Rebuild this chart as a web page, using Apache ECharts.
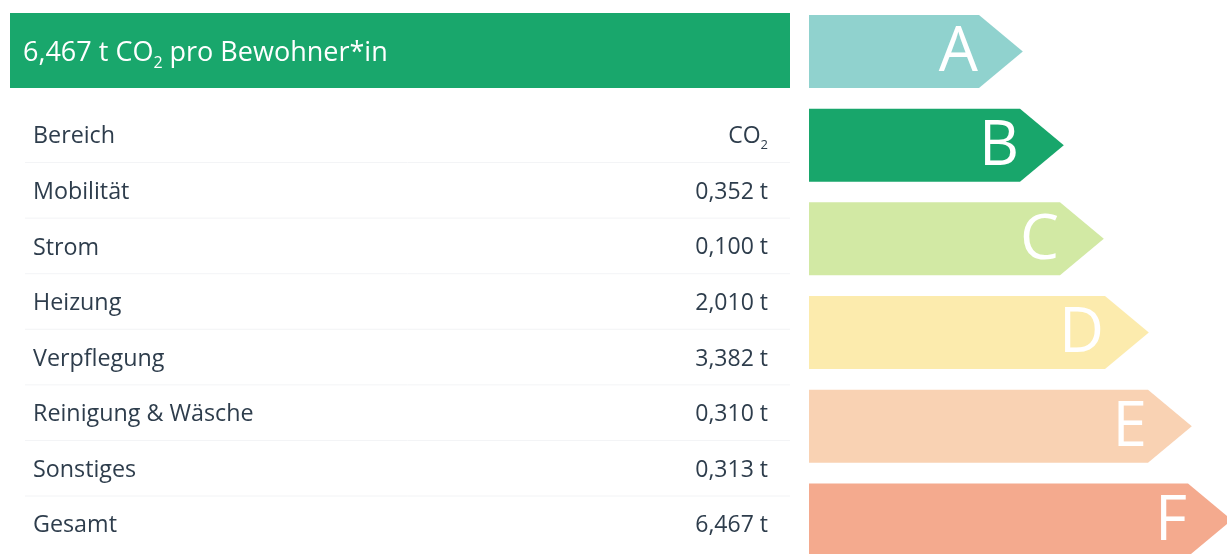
<!DOCTYPE html>
<html>
<head>
<meta charset="utf-8">
<script src="https://cdn.jsdelivr.net/npm/echarts@6/dist/echarts.min.js"></script>
<style>
html,body{margin:0;padding:0;background:#fff;}
#chart{width:1227px;height:554px;}
</style>
</head>
<body>
<div id="chart"></div>
<script>
// ---- data ----
var headerLabel = 'pro Bewohner*in';
var tableHead = ['Bereich', 'CO{sub|2}'];
var categories = ['Mobilität', 'Strom', 'Heizung', 'Verpflegung', 'Reinigung & Wäsche', 'Sonstiges', 'Gesamt'];
var values = [0.352, 0.100, 2.010, 3.382, 0.310, 0.313, 6.467];
var classes = ['A', 'B', 'C', 'D', 'E', 'F'];
var classLengths = [170, 211, 251, 296, 339, 379];
var classColors = ['#90d2ce', '#18a66b', '#d2e9a4', '#fcebad', '#f9d2b3', '#f4aa8e'];

function fmt(v) { return v.toFixed(3).replace('.', ',') + ' t'; }

var rowNames = [tableHead[0]].concat(categories);
var rowValues = [tableHead[1]].concat(values.map(fmt));
var total = values[values.length - 1];

var FONT = '"Open Sans", "Noto Sans", sans-serif';
var TEXT = '#2e3d4c';

var chart = echarts.init(document.getElementById('chart'), null, {renderer: 'canvas'});

var option = {
  backgroundColor: '#ffffff',
  animation: false,
  grid: [
    {left: 10, top: 109, width: 780, height: 444.6},
    {left: 809, top: 4.6, width: 418, height: 549.4}
  ],
  xAxis: [
    {gridIndex: 0, type: 'value', min: 0, max: 1, show: false},
    {gridIndex: 1, type: 'value', min: 0, max: 418, show: false}
  ],
  yAxis: [
    {gridIndex: 0, type: 'category', data: rowNames, inverse: true, show: false},
    {gridIndex: 1, type: 'value', min: 0, max: 5.863, inverse: true, show: false}
  ],
  graphic: [
    {type: 'rect', shape: {x: 10, y: 13, width: 780, height: 75}, style: {fill: '#19a76c'}, z: 1},
    {type: 'text', x: 23, y: 53, z: 2, style: {
      text: fmt(total) + ' CO{sub|2} ' + headerLabel,
      fill: '#ffffff', fontFamily: FONT, fontSize: 27, verticalAlign: 'middle', lineHeight: 36,
      rich: {sub: {fontSize: 16, lineHeight: 16, verticalAlign: 'bottom', fill: '#ffffff', fontFamily: FONT}}
    }}
  ],
  series: [
    {
      type: 'custom', xAxisIndex: 0, yAxisIndex: 0,
      data: rowNames.map(function (n, i) { return [0, i]; }),
      renderItem: function (params, api) {
        var i = api.value(1);
        var p = api.coord([0, i]);
        var cs = params.coordSys;
        var band = api.size([0, 1])[1];
        var children = [
          {type: 'text', style: {text: rowNames[i], x: cs.x + 23, y: p[1], fill: TEXT, fontFamily: FONT, fontSize: 23.3, align: 'left', verticalAlign: 'middle'}},
          {type: 'text', style: {text: rowValues[i], x: cs.x + cs.width - 22, y: p[1], fill: TEXT, fontFamily: FONT, fontSize: 23, align: 'right', verticalAlign: 'middle', lineHeight: 30,
            rich: {sub: {fontSize: 13, lineHeight: 13, verticalAlign: 'bottom', fill: TEXT, fontFamily: FONT}}}}
        ];
        if (i < rowNames.length - 1) {
          children.push({type: 'line', shape: {x1: cs.x + 15, y1: p[1] + band / 2 - 2, x2: cs.x + cs.width, y2: p[1] + band / 2 - 2}, style: {stroke: '#f3f4f6', lineWidth: 1}});
        }
        return {type: 'group', children: children};
      }
    },
    {
      type: 'custom', xAxisIndex: 1, yAxisIndex: 1,
      data: classLengths.map(function (v, i) { return [v, i + 0.5]; }),
      renderItem: function (params, api) {
        var v = api.value(0), yi = api.value(1);
        var idx = params.dataIndex;
        var s = api.coord([0, yi]);
        var e = api.coord([v, yi]);
        var h = api.size([0, 1])[1] * 0.779;
        var tip = h * 0.6;
        var y0 = s[1] - h / 2, y1 = s[1] + h / 2;
        return {type: 'group', children: [
          {type: 'polygon', shape: {points: [[s[0], y0], [e[0], y0], [e[0] + tip, s[1]], [e[0], y1], [s[0], y1]]}, style: {fill: classColors[idx]}},
          {type: 'text', style: {text: classes[idx], x: e[0] - 1, y: s[1] + 2, fill: '#ffffff', fontFamily: FONT, fontSize: 62, align: 'right', verticalAlign: 'middle'}}
        ]};
      }
    }
  ]
};
chart.setOption(option);
</script>
</body>
</html>
